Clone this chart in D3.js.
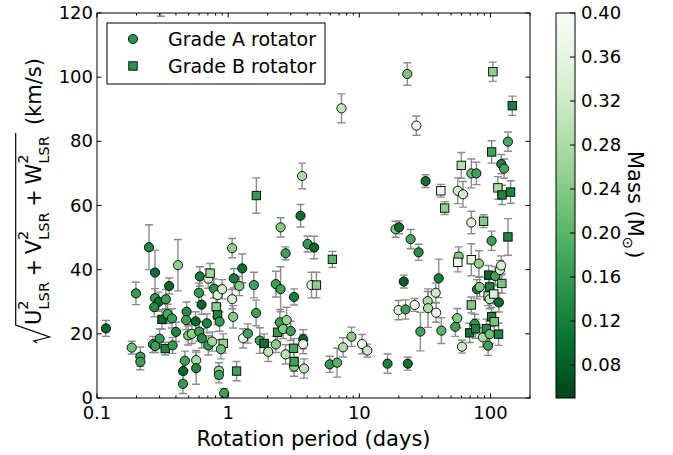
<!DOCTYPE html>
<html><head><meta charset="utf-8">
<script src="https://cdn.jsdelivr.net/npm/d3@7/dist/d3.min.js"></script>
<style>html,body{margin:0;padding:0;background:#fff;} text{font-family:"DejaVu Sans",sans-serif;}</style>
</head><body><svg id="c" width="673" height="455"></svg>
<script>
// Rotation period (days)
const periods = [0.117,0.184,0.198,0.214,0.214,0.249,0.277,0.277,0.295,0.273,0.335,0.355,0.414,0.313,0.345,0.373,0.40,0.300,0.267,0.278,0.331,0.377,0.482,0.478,0.565,0.688,0.496,0.529,0.601,0.63,0.705,0.755,0.468,0.454,0.452,0.570,0.570,0.608,0.705,0.729,0.598,0.627,0.778,0.83,0.90,0.81,0.83,0.86,0.916,0.88,0.85,0.85,0.932,
1.072,1.104,1.072,1.091,1.217,1.28,1.30,1.413,1.159,1.57,1.633,1.64,1.742,1.88,2.02,2.31,2.31,2.51,2.51,2.74,3.18,2.48,2.79,2.38,2.62,3.00,2.74,3.15,3.73,3.73,3.18,3.18,3.79,3.66,3.56,4.03,4.52,4.32,4.71,6.23,5.95,6.77,7.51,7.31,8.71,10.5,11.5,0.307,
16.4,18.9,20.1,19.9,22.5,21.8,23.4,23.2,24.6,26.4,27.2,28.3,29.2,32.0,33.2,33.4,38.2,38.5,40.3,42.2,41.8,44.7,53.9,55.8,57.2,56.3,56.3,61.7,60.6,59.9,71.4,78.0,71.4,88.5,71.4,81.6,71.4,69.3,75.7,77.1,78.8,82.6,87.5,92.9,95.9,98.5,96.7,98.5,98.5,95.9,101.9,101.9,102,104.2,105.9,106.7,108.6,113.8,115.2,115.9,118,120.5,120.8,122.4,122,127,135.8,135.8,142.3,146.6];
// sqrt(U^2+V^2+W^2) (km/s)
const speeds = [21.7,15.7,32.6,12.9,11.3,47.0,39.1,31.1,30.0,28.3,30.8,34.9,41.4,24.5,26.2,24.8,20.6,18.5,16.7,16.2,15.4,16.4,26.9,24.3,23.9,23.3,19.5,20.0,20.7,18.6,16.4,17.6,11.6,8.4,4.4,11.8,9.3,37.9,37.2,38.9,32.8,29.1,34.1,32.1,33.9,28.4,25.9,23.8,17.0,15.2,8.5,7.2,1.5,
46.7,37.3,30.8,25.3,34.9,40.4,18.6,20.1,8.4,35.2,26.5,63.1,17.9,17.0,14.4,16.7,35.5,33.9,53.2,45.1,31.5,23.6,24.3,20.5,21.5,20.9,13.6,15.5,18.3,16.8,9.8,11.3,9.2,69.2,56.8,48.0,46.9,35.2,35.2,43.2,10.5,11.0,15.8,90.3,19.1,16.8,14.8,124,
10.7,52.6,53.2,27.4,27.6,36.3,10.7,101.0,49.5,29.0,84.9,45.4,20.7,67.6,30.2,28.0,32.8,26.6,37.3,21.0,64.6,59.2,22.2,24.9,44.1,42.3,64.6,63.5,16.0,72.5,70.0,70.0,54.7,55.1,43.1,41.9,29.0,20.3,23.1,21.6,33.9,34.6,18.9,21.6,31.8,30.8,38.3,34.6,19.9,16.3,49.0,25.3,76.7,101.7,32.4,23.8,38.0,65.5,19.9,29.8,39.9,41.3,72.9,63.3,35.7,71.5,79.9,50.2,64.2,91.1];
// uncertainties (km/s)
const errors = [2.5,2,3.5,3,2.5,7,7,3,3,3,3,2.5,8,3,3,3,3,3,2.5,2,2,2.5,3,3,3,3,3,3,3,3,3,3,3,3,3,3,5,3,3,3,3,3,3,3,3,3,3,3,3,3,2.5,2.5,1.5,
3,3,3,3.5,3,4.5,3,3,3,4,4,5.5,4,3,3,2.5,4,7,3,2,2.5,4,4,3,3,3,3,3,3,3,3,3,3,4,3.5,2.5,3.5,4,4,2.5,2.5,4.5,3,4.5,3,3,2,5,
3,2.5,2,3,3,2,2,3.5,3,2,3,2.5,6,2,3,6,3,3,6,4,2,2,3,3,3,3,4,4,2,4,4.5,3.5,3.5,2,5,4,2.5,3,3,3,3,3,3,3,3,3,3,3,3,3,3,3,3.5,3,3,3,3,3.5,3.5,3,3,3,3,3,3,3,3,5.7,3.5,3];
// stellar mass (Msun)
const masses = [0.09,0.22,0.16,0.17,0.17,0.13,0.10,0.16,0.10,0.14,0.17,0.09,0.25,0.09,0.18,0.17,0.13,0.16,0.16,0.17,0.13,0.16,0.14,0.17,0.09,0.13,0.23,0.25,0.17,0.14,0.16,0.27,0.17,0.09,0.16,0.28,0.13,0.12,0.34,0.27,0.16,0.09,0.15,0.34,0.32,0.25,0.13,0.16,0.26,0.22,0.27,0.17,0.17,
0.25,0.12,0.33,0.24,0.24,0.10,0.38,0.17,0.17,0.17,0.17,0.16,0.17,0.10,0.30,0.25,0.17,0.17,0.24,0.17,0.12,0.17,0.26,0.16,0.24,0.17,0.30,0.18,0.09,0.38,0.25,0.17,0.30,0.28,0.10,0.16,0.09,0.38,0.25,0.20,0.16,0.20,0.28,0.30,0.24,0.38,0.32,0.20,
0.12,0.24,0.10,0.35,0.17,0.08,0.10,0.23,0.18,0.38,0.38,0.14,0.17,0.10,0.28,0.28,0.32,0.38,0.12,0.20,0.38,0.25,0.17,0.24,0.24,0.38,0.33,0.33,0.32,0.29,0.22,0.17,0.35,0.24,0.36,0.25,0.24,0.11,0.15,0.12,0.12,0.24,0.28,0.14,0.29,0.31,0.09,0.13,0.22,0.17,0.17,0.13,0.17,0.25,0.34,0.23,0.17,0.28,0.13,0.10,0.33,0.34,0.13,0.13,0.23,0.18,0.18,0.13,0.13,0.12];
// rotator grade (one letter per star, same order)
const grades = ("AAAAAAAAAAAAABAAAAAABAAAAAAAAAAAAAAAAAABAAAAABBABAAAA" +
  "AAAAAAAABAABABAAAAAAAAABAAABAAABAAAAAABBAAAAAAAA" +
  "AAAAAAAAAAAAAAAAAAAABBAAABAAABAAABBABBABAAABBABBAAABBBBBABBAAAABBAABBB").split("");
const legendLabels = ["Grade A rotator", "Grade B rotator"];
const xTicks = [0.1, 1, 10, 100];
const yTicks = [0, 20, 40, 60, 80, 100, 120];
const massTicks = [0.08, 0.12, 0.16, 0.20, 0.24, 0.28, 0.32, 0.36, 0.40];

const svg = d3.select("#c");
const L = 97, R = 530, T = 13, B = 398;
const x = d3.scaleLog().domain([0.1, 200]).range([L, R]);
const y = d3.scaleLinear().domain([0, 120]).range([B, T]);
const mScale = d3.scaleLinear().domain([0.05, 0.40]).range([1, 0]);
const col = m => d3.interpolateGreens(mScale(m));

const data = periods.map((p, i) => ({p, v: speeds[i], e: errors[i], m: masses[i], g: grades[i] || "A"}));

svg.append("clipPath").attr("id", "clip").append("rect").attr("x", L).attr("y", T).attr("width", R - L).attr("height", B - T);
const plot = svg.append("g").attr("clip-path", "url(#clip)");
// error bars
const eb = plot.append("g").attr("stroke", "#8c8c8c").attr("stroke-width", 1.4).attr("fill", "none");
data.forEach(d => {
  const cx = x(d.p), y1 = y(d.v - d.e), y2 = y(d.v + d.e);
  eb.append("path").attr("d", `M${cx},${y1}V${y2}M${cx-4},${y1}H${cx+4}M${cx-4},${y2}H${cx+4}`);
});
// markers
const mk = plot.append("g").attr("stroke", "#000").attr("stroke-width", 0.9);
data.forEach(d => {
  const cx = x(d.p), cy = y(d.v);
  if (d.g === "A") mk.append("circle").attr("cx", cx).attr("cy", cy).attr("r", 4.6).attr("fill", col(d.m));
  else mk.append("rect").attr("x", cx - 4.2).attr("y", cy - 4.2).attr("width", 8.4).attr("height", 8.4).attr("fill", col(d.m));
});

// axes frame and ticks
const ax = svg.append("g").attr("stroke", "#000").attr("stroke-width", 1).attr("fill", "none");
const minor = [];
[0.1, 1, 10, 100].forEach(dec => { for (let k = 2; k <= 9; k++) { const v = dec * k; if (v <= 200) minor.push(v); } });
xTicks.forEach(t => {
  ax.append("line").attr("x1", x(t)).attr("x2", x(t)).attr("y1", B).attr("y2", B - 4.5);
  ax.append("line").attr("x1", x(t)).attr("x2", x(t)).attr("y1", T).attr("y2", T + 4.5);
});
minor.forEach(t => {
  ax.append("line").attr("x1", x(t)).attr("x2", x(t)).attr("y1", B).attr("y2", B - 2.5);
  ax.append("line").attr("x1", x(t)).attr("x2", x(t)).attr("y1", T).attr("y2", T + 2.5);
});
yTicks.forEach(t => {
  ax.append("line").attr("x1", L).attr("x2", L + 4.5).attr("y1", y(t)).attr("y2", y(t));
  ax.append("line").attr("x1", R).attr("x2", R - 4.5).attr("y1", y(t)).attr("y2", y(t));
});
ax.append("rect").attr("x", L).attr("y", T).attr("width", R - L).attr("height", B - T);

xTicks.forEach(t => svg.append("text").attr("x", x(t)).attr("y", 419).attr("text-anchor", "middle").attr("font-size", 18).text(t));
yTicks.forEach(t => svg.append("text").attr("x", 93).attr("y", y(t)).attr("dy", "0.34em").attr("text-anchor", "end").attr("font-size", 18).text(t));

svg.append("text").attr("x", (L + R) / 2).attr("y", 446).attr("text-anchor", "middle").attr("font-size", 21).text("Rotation period (days)");

// y label with radical
const yl = svg.append("g").attr("transform", "translate(41,325) rotate(-90)");
let cur = 0;
const part = (s, size, dy) => { const t = yl.append("text").attr("x", cur).attr("y", dy).attr("font-size", size).text(s); return t.node().getComputedTextLength(); };
["U", "V", "W"].forEach((Lt, i) => {
  if (i > 0) { cur += 4.5; cur += part("+", 21, 0); cur += 4.5; }
  cur += part(Lt, 21, 0);
  const w1 = part("2", 14.7, -13);
  const w2 = part("LSR", 14.7, 7.5);
  cur += Math.max(w1, w2) + 1;
});
const barEnd = cur + 2;
yl.append("path").attr("fill", "none").attr("stroke", "#000").attr("stroke-width", 1.2)
  .attr("d", `M-18,-4 L-16,-7 L-12,8.5 L0,-25.3 L${barEnd},-25.3`);
cur = barEnd + 8;
part("(km/s)", 21, 0);

// legend
const lg = svg.append("g");
lg.append("rect").attr("x", 107).attr("y", 23).attr("width", 218).attr("height", 61).attr("fill", "#fff").attr("stroke", "#000").attr("stroke-width", 1);
const legCol = col(0.15);
lg.append("circle").attr("cx", 133).attr("cy", 39).attr("r", 4.6).attr("fill", legCol).attr("stroke", "#000").attr("stroke-width", 0.9);
lg.append("rect").attr("x", 133 - 4.2).attr("y", 66 - 4.2).attr("width", 8.4).attr("height", 8.4).attr("fill", legCol).attr("stroke", "#000").attr("stroke-width", 0.9);
legendLabels.forEach((s, i) => lg.append("text").attr("x", 168).attr("y", 39 + i * 27).attr("dy", "0.36em").attr("font-size", 19).text(s));

// colorbar
const cbX = 556, cbW = 19;
const grad = svg.append("defs").append("linearGradient").attr("id", "cbg").attr("x1", 0).attr("x2", 0).attr("y1", 1).attr("y2", 0);
d3.range(0, 1.0001, 0.05).forEach(f => grad.append("stop").attr("offset", f).attr("stop-color", d3.interpolateGreens(1 - f)));
const cy = d3.scaleLinear().domain([0.05, 0.40]).range([B, T]);
svg.append("rect").attr("x", cbX).attr("y", T).attr("width", cbW).attr("height", B - T).attr("fill", "url(#cbg)").attr("stroke", "#000").attr("stroke-width", 1);
massTicks.forEach(t => {
  svg.append("line").attr("x1", cbX + cbW).attr("x2", cbX + cbW - 5).attr("y1", cy(t)).attr("y2", cy(t)).attr("stroke", "#000");
  svg.append("text").attr("x", 581).attr("y", cy(t)).attr("dy", "0.36em").attr("font-size", 18).text(t.toFixed(2));
});
const cl = svg.append("text").attr("transform", "translate(628,151) rotate(90)").attr("font-size", 21);
cl.append("tspan").text("Mass (M");
cl.append("tspan").attr("font-size", 14.7).attr("dy", 5).text("\u2299");
cl.append("tspan").attr("dy", -5).attr("dx", 1).text(")");
</script></body></html>
